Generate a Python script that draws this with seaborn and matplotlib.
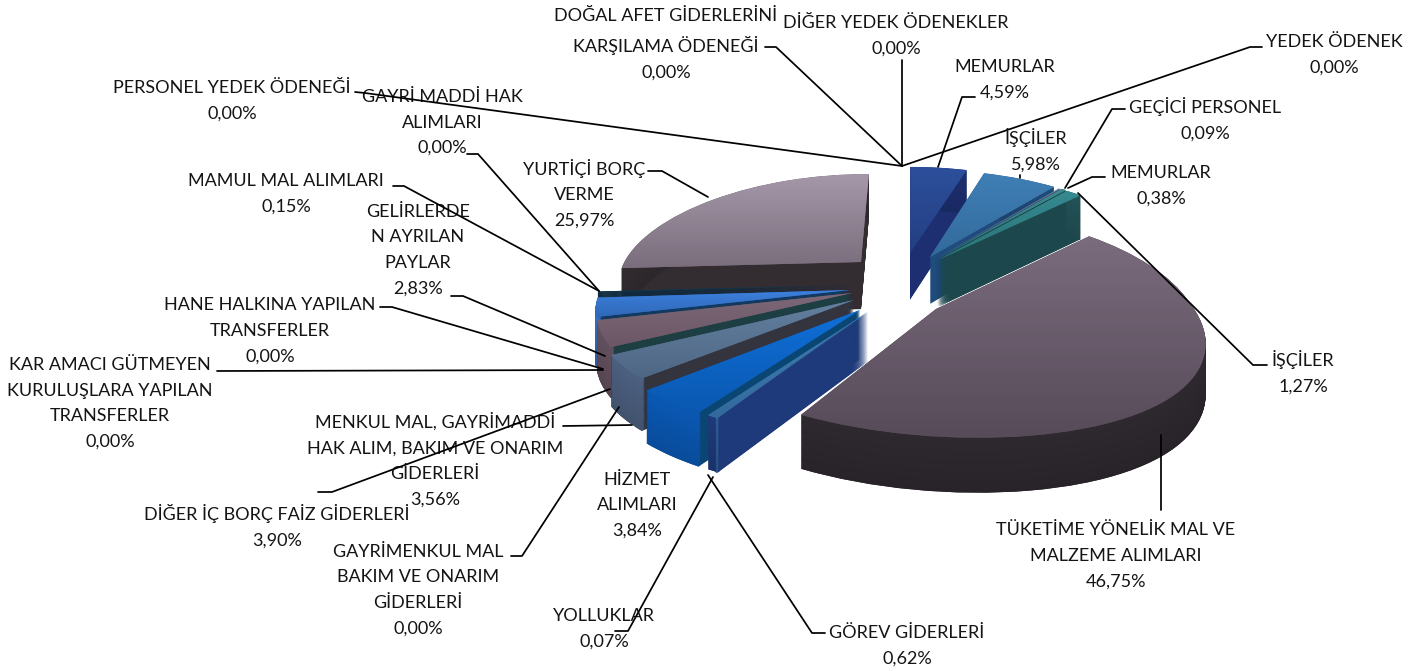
import numpy as np
import matplotlib
matplotlib.use("Agg")
import matplotlib.pyplot as plt
from matplotlib.colors import LinearSegmentedColormap, to_rgb
from matplotlib.patches import Wedge
from matplotlib.path import Path
from matplotlib.transforms import Transform
import seaborn as sns

# ---- data ----
slice_names = [
    "MEMURLAR", "İŞÇİLER", "GEÇİCİ PERSONEL", "MEMURLAR", "İŞÇİLER",
    "TÜKETİME YÖNELİK MAL VE\nMALZEME ALIMLARI", "YOLLUKLAR", "GÖREV GİDERLERİ",
    "HİZMET\nALIMLARI", "MENKUL MAL, GAYRİMADDİ\nHAK ALIM, BAKIM VE ONARIM\nGİDERLERİ",
    "GAYRİMENKUL MAL\nBAKIM VE ONARIM\nGİDERLERİ", "DİĞER İÇ BORÇ FAİZ GİDERLERİ",
    "KAR AMACI GÜTMEYEN\nKURULUŞLARA YAPILAN\nTRANSFERLER", "HANE HALKINA YAPILAN\nTRANSFERLER",
    "GELİRLERDE\nN AYRILAN\nPAYLAR", "MAMUL MAL ALIMLARI", "GAYRİ MADDİ HAK\nALIMLARI",
    "YURTİÇİ BORÇ\nVERME", "PERSONEL YEDEK ÖDENEĞİ", "DOĞAL AFET GİDERLERİNİ\nKARŞILAMA ÖDENEĞİ",
    "DİĞER YEDEK ÖDENEKLER", "YEDEK ÖDENEK",
]
slice_values = [4.59, 5.98, 0.09, 0.38, 1.27, 46.75, 0.07, 0.62, 3.84, 3.56, 0.00,
                3.90, 0.00, 0.00, 2.83, 0.15, 0.00, 25.97, 0.00, 0.00, 0.00, 0.00]

# ---- styling: colours per slice (top light, top dark, radial wall, rim) ----
top_light = ["#2d4f9b", "#3f7fb5", "#7483a8", "#3f8a90", "#358a90", "#7a6c7c", "#3f7fb5", "#3f7fb5",
             "#0f6fd8", "#64809f", "#888888", "#7d6878", "#888888", "#888888", "#3d80dd", "#14405a",
             "#888888", "#a598a8", "#888888", "#888888", "#888888", "#888888"]
top_dark = ["#233f83", "#336a9c", "#5a6a90", "#2a7378", "#2a7378", "#574a59", "#336a9c", "#336a9c",
            "#0a58b0", "#4e6785", "#888888", "#6b5766", "#888888", "#888888", "#2f68b8", "#103448",
            "#888888", "#7a6d7c", "#888888", "#888888", "#888888", "#888888"]
wall_side = ["#1d2f70", "#1f4c7c", "#3a4464", "#1c474d", "#1c474d", "#2e292f", "#1f3a7a", "#1f3a7a",
             "#0a4673", "#34343f", "#444444", "#1d3f44", "#444444", "#444444", "#123a60", "#102a3e",
             "#444444", "#332d32", "#444444", "#444444", "#444444", "#444444"]
wall_rim = ["#1d2f70", "#1f4c7c", "#3a4464", "#245459", "#245459", "#2e292f", "#2f689c", "#1f3a7a",
            "#0a58b4", "#4c6080", "#444444", "#63505e", "#444444", "#444444", "#356fc4", "#102a3e",
            "#444444", "#332d32", "#444444", "#444444", "#444444", "#444444"]

# ---- layout (pixels) ----
W, H = 1419, 671
OX, OY, RX, RY, KX, KY = 912.0, 281.0, 245.0, 104.0, 0.19, 0.13
SHEAR = 24.0      # shifts the near part of the plane to the right
DEPTH, KD = 48, 0.10
apex_px = {0: (910, 253), 1: (930, 257), 2: (935, 259), 3: (937, 259), 4: (938, 260), 5: (936, 309),
           6: (866, 312), 7: (868, 312), 8: (860, 310), 9: (854, 300), 11: (852, 293),
           14: (850, 290), 15: (848, 285), 17: (861, 262)}
paint_order = [17, 15, 14, 11, 9, 8, 7, 6, 0, 1, 2, 3, 4, 5]
label_px = [(1005, 65, 92), (1036, 136, 163), (1205, 105, 131), (1161, 171, 198), (1303, 358, 385),
            (1116, 529, 581), (604, 615, 641), (907, 632, 658), (637, 478, 531), (435, 420, 498),
            (418, 550, 628), (277, 512, 538), (110, 362, 443), (270, 304, 356), (418, 209, 289),
            (286, 180, 206), (442, 95, 148), (584, 167, 219), (232, 87, 113), (666, 17, 69),
            (896, 22, 48), (1334, 41, 67)]
leaders = [
    [(975, 97), (962, 97), (938, 167)], [(1020, 175), (1020, 178)],
    [(1125, 109), (1112, 109), (1065, 188)], [(1105, 177), (1092, 177), (1068, 188)],
    [(1267, 365), (1253, 365), (1078, 193)], [(1161, 435), (1161, 510)],
    [(615, 631), (628, 631), (713, 477)], [(825, 633), (812, 633), (708, 475)],
    [(563, 426), (632, 425)], [(511, 556), (522, 556), (619, 407)],
    [(318, 492), (332, 492), (610, 389)], [(217, 371), (603, 370)],
    [(380, 307), (392, 307), (603, 369)], [(451, 296), (463, 296), (605, 356)],
    [(393, 186), (404, 186), (599, 291)], [(467, 154), (478, 154), (599, 291)],
    [(648, 171), (662, 171), (708, 197)], [(355, 92), (365, 93), (902, 166)],
    [(765, 47), (776, 47), (902, 166)], [(902, 60), (902, 166)],
    [(1262, 47), (1250, 47), (902, 166)],
]


class Projection(Transform):
    """Perspective view of the pie plane, with a downward drop in pixels."""
    input_dims = output_dims = 2
    is_separable = False
    has_inverse = False

    def __init__(self, drop=0.0):
        super().__init__()
        self.drop = drop

    def transform_non_affine(self, xy):
        xy = np.asarray(xy, float)
        u, v = xy[:, 0], xy[:, 1]
        near = np.minimum(v, 0.0)
        return np.column_stack([OX + RX * u / (1 + KX * v) + SHEAR * near ** 2,
                                OY - RY * v / (1 + KY * v) + self.drop / (1 + KD * v)])

    def transform_path_non_affine(self, path):
        return Path(self.transform_non_affine(path.vertices), path.codes)


def unproject(px, py):
    s = -(py - OY) / RY
    v = s / (1 - KY * s)
    near = min(v, 0.0)
    return (px - OX - SHEAR * near ** 2) * (1 + KX * v) / RX, v


sns.set_theme(style="white")
plt.rcParams["font.family"] = ["Lato", "DejaVu Sans"]

fig = plt.figure(figsize=(W / 100, H / 100), dpi=100, facecolor="white")
ax = fig.add_axes([0, 0, 1, 1])

wedges, _ = ax.pie(slice_values, startangle=90, counterclock=False, radius=1.0,
                   colors=sns.color_palette(top_dark, len(top_dark)))
for w in wedges:
    w.set_visible(False)

for z, i in enumerate(paint_order):
    base = wedges[i]
    centre = unproject(*apex_px[i])
    base_z = 10 + z * 10
    # side walls: sweep the whole wedge, then the rim arc over it
    for d in np.arange(DEPTH, 0, -0.5):
        side = Wedge(centre, 1.0, base.theta1, base.theta2, fc=wall_side[i], ec="none",
                     lw=0, zorder=base_z, transform=Projection(d) + ax.transData)
        ax.add_artist(side)
    for d in range(DEPTH, 0, -1):
        shade = 0.86 + 0.14 * (DEPTH - d) / DEPTH
        rim = Wedge(centre, 1.0, base.theta1, base.theta2, width=0.012,
                    fc=tuple(c * shade for c in to_rgb(wall_rim[i])), ec="none", lw=0,
                    zorder=base_z + 1, transform=Projection(d) + ax.transData)
        ax.add_artist(rim)
    # top surface with a vertical gradient
    top = Wedge(centre, 1.0, base.theta1, base.theta2, fc=top_dark[i], ec="none", lw=0,
                zorder=base_z + 2, transform=Projection(0) + ax.transData)
    ax.add_artist(top)
    box = Projection(0).transform_path(top.get_path()).get_extents()
    cmap = LinearSegmentedColormap.from_list("g", [top_light[i], top_dark[i]])
    im = ax.imshow(np.linspace(0, 1, 64)[:, None], cmap=cmap, aspect="auto",
                   extent=(box.x0, box.x1, box.y1, box.y0), interpolation="bilinear",
                   zorder=base_z + 3)
    im.set_clip_path(top)

for name, value, (cx, y0, y1) in zip(slice_names, slice_values, label_px):
    text = name + "\n" + f"{value:.2f}".replace(".", ",") + "%"
    ax.text(cx, (y0 + y1) / 2 + 1, text, ha="center", va="center", fontsize=13, color="#141414",
            linespacing=1.74, zorder=300)

for pts in leaders:
    xs, ys = zip(*pts)
    ax.plot(xs, ys, color="black", lw=1.25, zorder=310, solid_capstyle="round")

ax.set_xlim(0, W)
ax.set_ylim(H, 0)
ax.set_aspect("auto")
ax.axis("off")
fig.savefig("out.png", dpi=100, facecolor="white")
